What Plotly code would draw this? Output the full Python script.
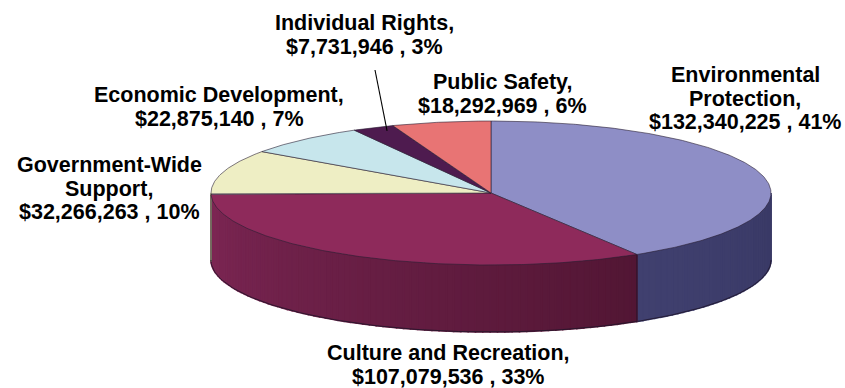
import numpy as np
import plotly.graph_objects as go

# ---------------- data ----------------
categories = ["Environmental Protection", "Culture and Recreation", "Government-Wide Support",
              "Economic Development", "Individual Rights", "Public Safety"]
values = [132340225, 107079536, 32266263, 22875140, 7731946, 18292969]
pct_labels = ["41%", "33%", "10%", "7%", "3%", "6%"]
name_lines = [["Environmental", "Protection,"], ["Culture and Recreation,"],
              ["Government-Wide", "Support,"], ["Economic Development,"],
              ["Individual Rights,"], ["Public Safety,"]]

# ---------------- style / geometry ----------------
W, H = 845, 388
CX, CY, A, B, DEPTH = 491, 193, 280, 72, 67
top_colors = ["#8E8EC6", "#8E2A5B", "#EEEEC4", "#C7E6EC", "#4E1B4F", "#E87474"]
side_left = ["#40406F", "#7E2755", "#BDBD95", "#9AB8BE", "#3A1240", "#B85858"]
side_right = ["#393965", "#521634", "#A8A880", "#88A6AC", "#300F35", "#A04848"]
# label anchor (x, first-line y) and line pitch
label_pos = [(745, 75), (448, 353), (109, 165), (219, 95), (364, 23), (502, 82)]
PITCH = 23.5
FONT = dict(family="Liberation Sans, Arial, sans-serif", size=21.5, color="#000000", weight="bold")


def pt(theta_deg, dy=0.0):
    t = np.radians(theta_deg)
    return CX + A * np.sin(t), CY - B * np.cos(t) + dy


def hex2rgb(h):
    h = h.lstrip("#")
    return [int(h[i:i + 2], 16) for i in (0, 2, 4)]


def mix(c1, c2, f):
    a, b = hex2rgb(c1), hex2rgb(c2)
    return "rgb(%d,%d,%d)" % tuple(round(a[i] + (b[i] - a[i]) * f) for i in range(3))


total = float(sum(values))
cum = np.concatenate([[0.0], np.cumsum(values)]) / total * 360.0

fig = go.Figure()

# ---- side walls (front half only: 90..270 deg clockwise from top) ----
for i in range(len(values)):
    s1, s2 = max(cum[i], 90.0), min(cum[i + 1], 270.0)
    if s2 <= s1:
        continue
    # base fill for the whole wall piece (avoids seams)
    arc = np.linspace(s1, s2, 120)
    xs = [pt(t)[0] for t in arc] + [pt(t, DEPTH)[0] for t in arc[::-1]]
    ys = [pt(t)[1] for t in arc] + [pt(t, DEPTH)[1] for t in arc[::-1]]
    base = mix(side_right[i], side_left[i], 0.5)
    fig.add_trace(go.Scatter(x=xs + [xs[0]], y=ys + [ys[0]], mode="lines", fill="toself", fillcolor=base,
                             line=dict(color=base, width=0), hoverinfo="skip", showlegend=False))
    n = max(1, int((s2 - s1) / 1.5))
    edges = np.linspace(s1, s2, n + 1)
    for k in range(n):
        u, v = edges[k], edges[k + 1]
        arc = np.linspace(u, v, 4)
        xs = [pt(t)[0] for t in arc] + [pt(t, DEPTH)[0] for t in arc[::-1]]
        ys = [pt(t)[1] for t in arc] + [pt(t, DEPTH)[1] for t in arc[::-1]]
        xs.append(xs[0]); ys.append(ys[0])
        f = ((u + v) / 2 - s1) / (s2 - s1)   # 0 at right end, 1 at left end
        col = mix(side_right[i], side_left[i], f)
        fig.add_trace(go.Scatter(x=xs, y=ys, mode="lines", fill="toself", fillcolor=col,
                                 line=dict(color=col, width=1.6), hoverinfo="skip", showlegend=False))
    # outline of the wall piece
    arc = np.linspace(s1, s2, 80)
    xs = [pt(t, DEPTH)[0] for t in arc]
    ys = [pt(t, DEPTH)[1] for t in arc]
    fig.add_trace(go.Scatter(x=xs, y=ys, mode="lines", line=dict(color="rgba(30,20,40,0.8)", width=1),
                             hoverinfo="skip", showlegend=False))
    for t in (s1, s2):
        if t in (90.0, 270.0):
            continue
        x0, y0 = pt(t)
        x1, y1 = pt(t, DEPTH)
        fig.add_trace(go.Scatter(x=[x0, x1], y=[y0, y1], mode="lines",
                                 line=dict(color="rgba(30,20,40,0.7)", width=1),
                                 hoverinfo="skip", showlegend=False))

# ---- top faces ----
for i in range(len(values)):
    arc = np.linspace(cum[i], cum[i + 1], max(4, int((cum[i + 1] - cum[i]) * 2)))
    xs = [CX] + [pt(t)[0] for t in arc] + [CX]
    ys = [CY] + [pt(t)[1] for t in arc] + [CY]
    fig.add_trace(go.Scatter(x=xs, y=ys, mode="lines", fill="toself", fillcolor=top_colors[i],
                             line=dict(color="rgba(40,30,50,0.75)", width=0.8),
                             name=categories[i], hoverinfo="name", showlegend=False))

# ---- labels ----
for i in range(len(values)):
    lines = name_lines[i] + ["$%s , %s" % (format(values[i], ","), pct_labels[i])]
    lx, ly = label_pos[i]
    for j, txt in enumerate(lines):
        fig.add_annotation(x=lx, y=ly + j * PITCH, xref="x", yref="y", text=txt, showarrow=False,
                           xanchor="center", yanchor="middle", font=FONT)

# leader line for Individual Rights
mid = (cum[4] + cum[5]) / 2
ex = CX + 0.95 * A * np.sin(np.radians(mid)) + 8
ey = CY - 0.95 * B * np.cos(np.radians(mid))
fig.add_trace(go.Scatter(x=[375, ex], y=[70, ey], mode="lines", line=dict(color="#000000", width=1.1),
                         hoverinfo="skip", showlegend=False))

fig.update_layout(width=W, height=H, margin=dict(l=0, r=0, t=0, b=0),
                  paper_bgcolor="white", plot_bgcolor="white", showlegend=False,
                  xaxis=dict(range=[0, W], visible=False, fixedrange=True),
                  yaxis=dict(range=[H, 0], visible=False, fixedrange=True))
fig.write_html("out.html")
